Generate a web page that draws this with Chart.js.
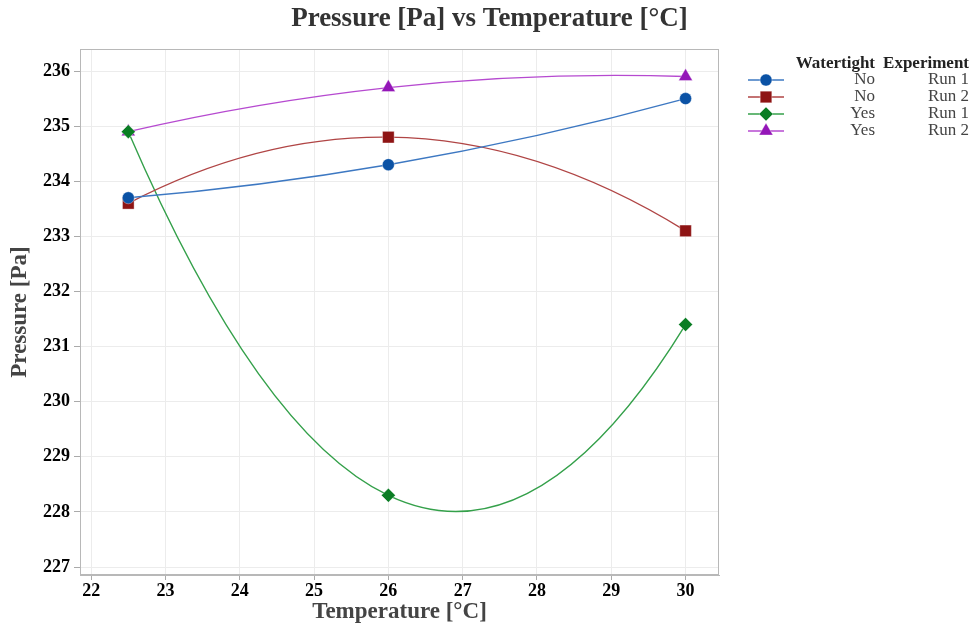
<!DOCTYPE html>
<html>
<head>
<meta charset="utf-8">
<title>Pressure vs Temperature</title>
<script src="https://cdn.jsdelivr.net/npm/chart.js@4"></script>
<style>
    body { margin: 0; background: #fff; }
    #wrap { width: 973px; height: 634px; }
</style>
</head>
<body>
<div id="wrap"><canvas id="chart" width="973" height="634"></canvas></div>
<script>
const temperatures = [22.5, 26, 30];

const watertight = ["No", "No", "Yes", "Yes"];
const experiment = ["Run 1", "Run 2", "Run 1", "Run 2"];

const noRun1 = [233.7, 234.3, 235.5];
const noRun2 = [233.6, 234.8, 233.1];
const yesRun1 = [234.9, 228.3, 231.4];
const yesRun2 = [234.9, 235.7, 235.9];

const xTicks = [22, 23, 24, 25, 26, 27, 28, 29, 30];
const yTicks = [227, 228, 229, 230, 231, 232, 233, 234, 235, 236];

const SERIF = '"Liberation Serif", "Times New Roman", serif';

const series = [
    { values: noRun1, marker: "#0b52a5", line: "#3d78c2", style: "circle", radius: 6 },
    { values: noRun2, marker: "#8e1414", line: "#b04545", style: "rect", radius: 8.2 },
    { values: yesRun1, marker: "#0a7d24", line: "#34a04a", style: "rectRot", radius: 7 },
    { values: yesRun2, marker: "#9416b8", line: "#b64ad0", style: "triangle", radius: 8 }
];

const datasets = series.map((s, i) => ({
    label: watertight[i] + " " + experiment[i],
    watertight: watertight[i],
    experiment: experiment[i],
    data: temperatures.map((t, j) => ({ x: t, y: s.values[j] })),
    borderColor: s.line,
    borderWidth: 1.4,
    backgroundColor: s.marker,
    pointBackgroundColor: s.marker,
    pointBorderColor: "rgba(255,255,255,0.35)",
    pointBorderWidth: 1,
    pointStyle: s.style,
    pointRadius: s.radius,
    pointHoverRadius: s.radius,
    tension: 0.4,
    fill: false
}));

// Smooth the lines with parabolic (Bessel) tangents: each point's slope is
// taken from the parabola through it and its neighbours, then turned into
// cubic control points for the segments on either side.
function parabolaSlope(pts, a, x) {
    const [p0, p1, p2] = [pts[a], pts[a + 1], pts[a + 2]];
    return p0.y * ((x - p1.x) + (x - p2.x)) / ((p0.x - p1.x) * (p0.x - p2.x))
         + p1.y * ((x - p0.x) + (x - p2.x)) / ((p1.x - p0.x) * (p1.x - p2.x))
         + p2.y * ((x - p0.x) + (x - p1.x)) / ((p2.x - p0.x) * (p2.x - p1.x));
}

const smoothLines = {
    id: "smoothLines",
    beforeDatasetsDraw(chart) {
        chart.getSortedVisibleDatasetMetas().forEach(meta => {
            const line = meta.dataset;
            const pts = meta.data;
            const n = pts.length;
            if (!line || n < 3) return;
            line.updateControlPoints(chart.chartArea, "x");
            pts.forEach((p, i) => {
                const a = Math.min(Math.max(i - 1, 0), n - 3);
                const m = parabolaSlope(pts, a, p.x);
                if (i > 0) {
                    const h = p.x - pts[i - 1].x;
                    p.cp1x = p.x - h / 3;
                    p.cp1y = p.y - m * h / 3;
                }
                if (i < n - 1) {
                    const h = pts[i + 1].x - p.x;
                    p.cp2x = p.x + h / 3;
                    p.cp2y = p.y + m * h / 3;
                }
            });
            line._path = undefined;
        });
    }
};

// title, frame round the plot area and the two-column legend on the right
const frameAndLegend = {
    id: "frameAndLegend",
    afterDraw(chart) {
        const { ctx, chartArea: a } = chart;
        ctx.save();
        ctx.strokeStyle = "#b8b8b8";
        ctx.lineWidth = 1;
        ctx.strokeRect(a.left + 0.5, a.top + 0.5, a.right - a.left - 1, a.bottom - a.top - 1);

        ctx.textAlign = "center";
        ctx.textBaseline = "middle";
        ctx.fillStyle = "#333";
        ctx.font = "bold 27px " + SERIF;
        ctx.fillText("Pressure [Pa] vs Temperature [°C]", chart.width / 2 + 3, 19);

        const col1 = 875, col2 = 969;
        ctx.textAlign = "right";
        ctx.font = "bold 17px " + SERIF;
        ctx.fillStyle = "#222";
        ctx.fillText("Watertight", col1, 64);
        ctx.fillText("Experiment", col2, 64);

        ctx.font = "17px " + SERIF;
        chart.data.datasets.forEach((ds, i) => {
            const y = 80 + i * 17;
            ctx.strokeStyle = ds.borderColor;
            ctx.lineWidth = 1.4;
            ctx.beginPath();
            ctx.moveTo(748, y);
            ctx.lineTo(784, y);
            ctx.stroke();
            ctx.fillStyle = ds.pointBackgroundColor;
            ctx.strokeStyle = ds.pointBorderColor;
            ctx.lineWidth = 1;
            Chart.helpers.drawPoint(ctx, { pointStyle: ds.pointStyle, radius: ds.pointRadius, rotation: 0, borderWidth: 1 }, 766, y);
            ctx.fillStyle = "#444";
            ctx.fillText(ds.watertight, col1, y);
            ctx.fillText(ds.experiment, col2, y);
        });
        ctx.restore();
    }
};

new Chart(document.getElementById("chart"), {
    type: "line",
    data: { datasets },
    options: {
        responsive: false,
        animation: false,
        layout: { padding: { left: 0, right: 254, top: 49, bottom: 0 } },
        plugins: {
            legend: { display: false },
            tooltip: { enabled: false },
            title: { display: false }
        },
        scales: {
            x: {
                type: "linear",
                min: 21.85,
                max: 30.45,
                afterFit: scale => { scale.height = 59; },
                afterBuildTicks: scale => { scale.ticks = xTicks.map(v => ({ value: v })); },
                border: { color: "#b8b8b8", width: 1 },
                grid: { color: "#ececec", tickColor: "#aaa", tickLength: 5, lineWidth: 1 },
                ticks: {
                    color: "#000",
                    padding: 1,
                    maxRotation: 0,
                    font: { family: SERIF, size: 18, weight: "bold" }
                },
                title: {
                    display: true,
                    text: "Temperature [°C]",
                    color: "#444",
                    font: { family: SERIF, size: 23, weight: "bold" },
                    padding: { top: 0, bottom: 8 }
                }
            },
            y: {
                min: 226.855,
                max: 236.4,
                afterFit: scale => { scale.width = 80; },
                afterBuildTicks: scale => { scale.ticks = yTicks.map(v => ({ value: v })); },
                border: { color: "#b8b8b8", width: 1 },
                grid: { color: "#ececec", tickColor: "#aaa", tickLength: 6, lineWidth: 1 },
                ticks: {
                    color: "#000",
                    padding: 4,
                    font: { family: SERIF, size: 18, weight: "bold" }
                },
                title: {
                    display: true,
                    text: "Pressure [Pa]",
                    color: "#444",
                    font: { family: SERIF, size: 23, weight: "bold" },
                    padding: { top: 6, bottom: 0 }
                }
            }
        }
    },
    plugins: [smoothLines, frameAndLegend]
});
</script>
</body>
</html>
